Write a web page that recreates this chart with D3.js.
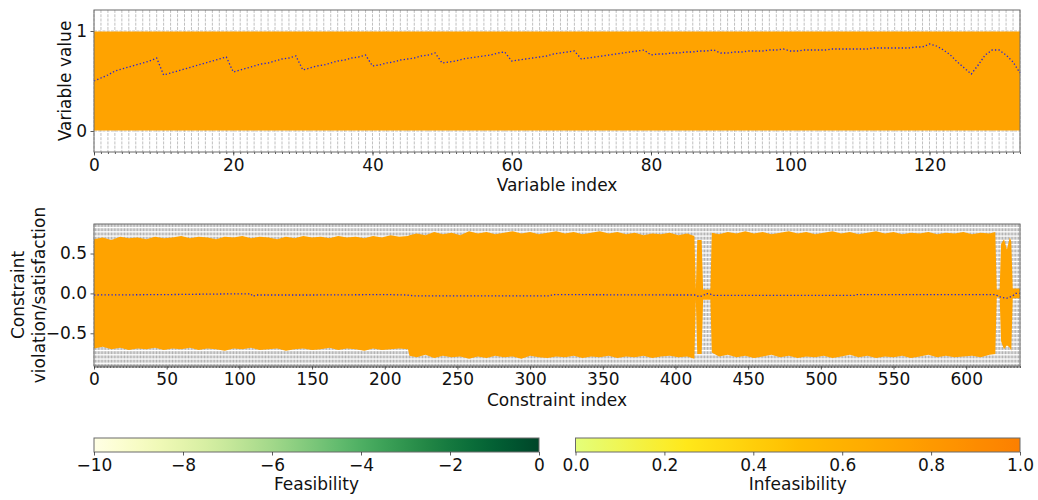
<!DOCTYPE html>
<html>
<head>
<meta charset="utf-8">
<script src="https://cdn.jsdelivr.net/npm/d3@7"></script>
<style>
  body { margin: 0; background: #fff; }
  text { font-family: "DejaVu Sans", sans-serif; fill: #111; }
</style>
</head>
<body>
<div id="chart"></div>
<script>
// mean variable value per variable index (blue dotted line, top panel)
const variableMean = [
  0.50, 0.53, 0.56, 0.60, 0.62, 0.64, 0.66, 0.68, 0.70, 0.73,
  0.56, 0.58, 0.60, 0.62, 0.64, 0.66, 0.68, 0.70, 0.72, 0.74,
  0.59, 0.61, 0.63, 0.65, 0.67, 0.68, 0.70, 0.72, 0.73, 0.75,
  0.61, 0.63, 0.65, 0.66, 0.68, 0.70, 0.71, 0.73, 0.74, 0.76,
  0.65, 0.66, 0.68, 0.69, 0.71, 0.72, 0.73, 0.75, 0.76, 0.78,
  0.68, 0.69, 0.70, 0.72, 0.73, 0.74, 0.75, 0.76, 0.78, 0.79,
  0.70, 0.71, 0.72, 0.73, 0.74, 0.75, 0.77, 0.78, 0.79, 0.80,
  0.72, 0.73, 0.74, 0.75, 0.76, 0.77, 0.78, 0.79, 0.80, 0.81,
  0.76, 0.77, 0.77, 0.78, 0.78, 0.79, 0.79, 0.80, 0.80, 0.81,
  0.78, 0.78, 0.79, 0.79, 0.80, 0.80, 0.80, 0.81, 0.81, 0.82,
  0.80, 0.80, 0.81, 0.81, 0.81, 0.81, 0.82, 0.82, 0.82, 0.82,
  0.82, 0.82, 0.83, 0.83, 0.83, 0.83, 0.83, 0.83, 0.84, 0.84,
  0.87, 0.85, 0.81, 0.76, 0.69, 0.63, 0.57, 0.66, 0.76, 0.81,
  0.81, 0.76, 0.69, 0.58
];

// envelope of the population lines: [index, upper, lower]
const variableBand = [
  [0, 0.995, 0.005], [133, 0.995, 0.005]
];

const constraintBand = [
  [0, 0.68, -0.69], [6, 0.70, -0.67], [12, 0.67, -0.70], [18, 0.71, -0.68], [24, 0.69, -0.71],
  [30, 0.70, -0.69], [36, 0.68, -0.70], [42, 0.71, -0.68], [48, 0.69, -0.71], [54, 0.70, -0.69],
  [60, 0.72, -0.70], [66, 0.69, -0.68], [72, 0.71, -0.71], [78, 0.70, -0.69], [84, 0.68, -0.70],
  [90, 0.71, -0.72], [96, 0.70, -0.69], [102, 0.72, -0.70], [108, 0.69, -0.68], [114, 0.71, -0.71],
  [120, 0.70, -0.70], [126, 0.68, -0.69], [132, 0.71, -0.72], [138, 0.69, -0.70], [144, 0.72, -0.69],
  [150, 0.70, -0.71], [156, 0.71, -0.70], [162, 0.69, -0.68], [168, 0.72, -0.71], [174, 0.70, -0.69],
  [180, 0.71, -0.70], [186, 0.69, -0.72], [192, 0.72, -0.69], [198, 0.70, -0.71], [204, 0.73, -0.70],
  [210, 0.71, -0.69], [216, 0.72, -0.70],
  [217, 0.73, -0.78], [222, 0.75, -0.80], [228, 0.73, -0.77], [234, 0.77, -0.81], [240, 0.74, -0.78],
  [246, 0.76, -0.80], [252, 0.73, -0.79], [258, 0.78, -0.82], [264, 0.75, -0.79], [270, 0.77, -0.81],
  [276, 0.74, -0.78], [282, 0.76, -0.80], [288, 0.78, -0.79], [294, 0.75, -0.82], [300, 0.77, -0.78],
  [306, 0.74, -0.80], [312, 0.76, -0.81], [318, 0.78, -0.79], [324, 0.75, -0.80], [330, 0.77, -0.78],
  [336, 0.74, -0.81], [342, 0.76, -0.79], [348, 0.78, -0.80], [354, 0.75, -0.78], [360, 0.77, -0.81],
  [366, 0.74, -0.79], [372, 0.76, -0.80], [378, 0.73, -0.78], [384, 0.75, -0.81], [390, 0.74, -0.79],
  [396, 0.76, -0.78], [402, 0.73, -0.80], [408, 0.75, -0.79], [413, 0.72, -0.82],
  [414, 0.05, -0.08], [415, 0.67, -0.76], [418, 0.67, -0.76], [419, 0.05, -0.08], [424, 0.05, -0.08],
  [425, 0.76, -0.74], [430, 0.74, -0.79], [436, 0.77, -0.77], [442, 0.75, -0.80], [448, 0.78, -0.78],
  [454, 0.75, -0.81], [460, 0.77, -0.79], [466, 0.74, -0.77], [472, 0.76, -0.80], [478, 0.78, -0.78],
  [484, 0.75, -0.81], [490, 0.77, -0.79], [496, 0.74, -0.80], [502, 0.76, -0.78], [508, 0.78, -0.81],
  [514, 0.75, -0.79], [520, 0.77, -0.77], [526, 0.74, -0.80], [532, 0.76, -0.78], [538, 0.78, -0.81],
  [544, 0.75, -0.79], [550, 0.77, -0.80], [556, 0.74, -0.78], [562, 0.76, -0.81], [568, 0.75, -0.79],
  [574, 0.77, -0.77], [580, 0.74, -0.80], [586, 0.76, -0.78], [592, 0.75, -0.80], [598, 0.77, -0.79],
  [604, 0.74, -0.78], [610, 0.76, -0.80], [616, 0.75, -0.77], [620, 0.77, -0.76],
  [621, 0.05, -0.05], [623, 0.05, -0.05], [624, 0.62, -0.60], [626, 0.68, -0.70], [628, 0.55, -0.65],
  [630, 0.70, -0.68], [631, 0.65, -0.72], [632, 0.06, -0.06], [637, 0.06, -0.06]
];

// mean constraint value: [index, value]
const constraintMean = [
  [0, -0.02], [50, -0.015], [100, -0.005], [108, -0.005], [109, -0.035], [112, -0.02],
  [150, -0.02], [200, -0.015], [215, -0.02], [220, -0.03], [314, -0.03], [315, -0.015],
  [400, -0.02], [414, -0.02], [416, -0.04], [419, -0.03], [421, 0.0], [424, -0.01],
  [426, -0.025], [523, -0.025], [524, -0.015], [620, -0.015], [624, -0.05], [628, -0.06],
  [632, -0.03], [634, 0.0], [637, 0.0]
];

const variableTicks = [0, 20, 40, 60, 80, 100, 120];
const variableYTicks = [0, 1];
const constraintTicks = [0, 50, 100, 150, 200, 250, 300, 350, 400, 450, 500, 550, 600];
const constraintYTicks = [-0.5, 0, 0.5];
const feasibilityTicks = [-10, -8, -6, -4, -2, 0];
const infeasibilityTicks = [0, 0.2, 0.4, 0.6, 0.8, 1.0];
const wistiaColors = ['#e4ff7a', '#ffe81a', '#ffbd00', '#ffa000', '#fc7f00'];

const width = 1038, height = 500;
const fontSize = 17;
const svg = d3.select('#chart').append('svg')
  .attr('width', width).attr('height', height);
const defs = svg.append('defs');

const wistia = d3.scaleLinear()
  .domain([0, 0.25, 0.5, 0.75, 1])
  .range(wistiaColors);
const bandColor = wistia(0.72);

const gridColor = '#b0b0b0';
const spineColor = '#6a6a6a';

function styleAxis(g) {
  g.select('.domain').remove();
  g.selectAll('.tick line').attr('stroke', '#333').attr('stroke-width', 0.8);
  g.selectAll('.tick text').attr('font-size', fontSize).attr('fill', '#111');
}

// ---------- top panel: variables ----------
const vx = d3.scaleLinear().domain([0, 133]).range([94, 1020]);
const vy = d3.scaleLinear().domain([-0.21, 1.21]).range([152, 10]);

const topPanel = svg.append('g');
topPanel.append('g').selectAll('line')
  .data(d3.range(0, 134))
  .join('line')
  .attr('x1', d => vx(d)).attr('x2', d => vx(d))
  .attr('y1', 10).attr('y2', 152)
  .attr('stroke', gridColor).attr('stroke-width', 0.8)
  .attr('stroke-dasharray', '2.96,1.28');
topPanel.append('g').selectAll('line')
  .data(variableYTicks)
  .join('line')
  .attr('x1', 94).attr('x2', 1020)
  .attr('y1', d => vy(d)).attr('y2', d => vy(d))
  .attr('stroke', gridColor).attr('stroke-width', 0.8)
  .attr('stroke-dasharray', '2.96,1.28');

topPanel.append('path')
  .datum(variableBand)
  .attr('fill', bandColor)
  .attr('d', d3.area().x(d => vx(d[0])).y0(d => vy(d[2])).y1(d => vy(d[1])));

topPanel.append('path')
  .datum(variableMean)
  .attr('fill', 'none')
  .attr('stroke', '#2222dd')
  .attr('stroke-width', 1.3)
  .attr('stroke-dasharray', '1.3,2.2')
  .attr('d', d3.line().x((d, i) => vx(i)).y(d => vy(d)));

topPanel.append('g')
  .attr('transform', 'translate(0,152)')
  .call(d3.axisBottom(vx).tickValues(d3.range(0, 134)).tickSize(2).tickFormat(''))
  .call(styleAxis);
topPanel.append('g')
  .attr('transform', 'translate(0,152)')
  .call(d3.axisBottom(vx).tickValues(variableTicks).tickSize(3.5).tickPadding(3.5))
  .call(styleAxis);
topPanel.append('g')
  .attr('transform', 'translate(94,0)')
  .call(d3.axisLeft(vy).tickValues(variableYTicks).tickSize(3.5).tickPadding(3.5).tickFormat(d3.format('d')))
  .call(styleAxis);
topPanel.append('rect')
  .attr('x', 94).attr('y', 10).attr('width', 926).attr('height', 142)
  .attr('fill', 'none').attr('stroke', spineColor).attr('stroke-width', 1);

topPanel.append('text')
  .attr('x', 557).attr('y', 191)
  .attr('text-anchor', 'middle').attr('font-size', fontSize)
  .text('Variable index');
topPanel.append('text')
  .attr('transform', 'translate(71,81) rotate(-90)')
  .attr('text-anchor', 'middle').attr('font-size', fontSize)
  .text('Variable value');

// ---------- bottom panel: constraints ----------
const cx = d3.scaleLinear().domain([0, 637]).range([94, 1020]);
const cy = d3.scaleLinear().domain([-0.91, 0.87]).range([366, 224]);

const bottomPanel = svg.append('g');
bottomPanel.append('g').selectAll('line')
  .data(d3.range(0, 638))
  .join('line')
  .attr('x1', d => cx(d)).attr('x2', d => cx(d))
  .attr('y1', 224).attr('y2', 366)
  .attr('stroke', gridColor).attr('stroke-width', 1)
  .attr('stroke-dasharray', '2.96,1.28');

bottomPanel.append('path')
  .datum(constraintBand)
  .attr('fill', bandColor)
  .attr('d', d3.area().x(d => cx(d[0])).y0(d => cy(d[2])).y1(d => cy(d[1])));

bottomPanel.append('path')
  .datum(constraintMean)
  .attr('fill', 'none')
  .attr('stroke', '#2222dd')
  .attr('stroke-width', 1.3)
  .attr('stroke-dasharray', '1.3,2.2')
  .attr('d', d3.line().x(d => cx(d[0])).y(d => cy(d[1])));

bottomPanel.append('g')
  .attr('transform', 'translate(0,366)')
  .call(d3.axisBottom(cx).tickValues(d3.range(0, 638)).tickSize(2).tickFormat(''))
  .call(styleAxis);
bottomPanel.append('g')
  .attr('transform', 'translate(0,366)')
  .call(d3.axisBottom(cx).tickValues(constraintTicks).tickSize(3.5).tickPadding(3))
  .call(styleAxis);
bottomPanel.append('g')
  .attr('transform', 'translate(94,0)')
  .call(d3.axisLeft(cy).tickValues(constraintYTicks).tickSize(3.5).tickPadding(3.5).tickFormat(d3.format('.1f')))
  .call(styleAxis);
bottomPanel.append('rect')
  .attr('x', 94).attr('y', 224).attr('width', 926).attr('height', 142)
  .attr('fill', 'none').attr('stroke', spineColor).attr('stroke-width', 1);

bottomPanel.append('text')
  .attr('x', 557).attr('y', 406)
  .attr('text-anchor', 'middle').attr('font-size', fontSize)
  .text('Constraint index');
const cLabel = bottomPanel.append('text')
  .attr('transform', 'translate(0,295) rotate(-90)')
  .attr('text-anchor', 'middle').attr('font-size', fontSize);
cLabel.append('tspan').attr('x', 0).attr('y', 24).text('Constraint');
cLabel.append('tspan').attr('x', 0).attr('y', 45).text('violation/satisfaction');

// ---------- colorbars ----------
function colorbar(id, x0, x1, domain, interp, ticks, fmt, label) {
  const grad = defs.append('linearGradient').attr('id', id)
    .attr('x1', '0%').attr('x2', '100%').attr('y1', '0%').attr('y2', '0%');
  grad.selectAll('stop')
    .data(d3.range(0, 1.0001, 0.05))
    .join('stop')
    .attr('offset', d => (d * 100) + '%')
    .attr('stop-color', d => interp(d));
  const s = d3.scaleLinear().domain(domain).range([x0, x1]);
  const g = svg.append('g');
  g.append('rect')
    .attr('x', x0).attr('y', 438).attr('width', x1 - x0).attr('height', 14)
    .attr('fill', `url(#${id})`)
    .attr('stroke', spineColor).attr('stroke-width', 1);
  g.append('g')
    .attr('transform', 'translate(0,452)')
    .call(d3.axisBottom(s).tickValues(ticks).tickSize(3.5).tickPadding(3.5).tickFormat(fmt))
    .call(styleAxis);
  g.append('text')
    .attr('x', (x0 + x1) / 2).attr('y', 490)
    .attr('text-anchor', 'middle').attr('font-size', fontSize)
    .text(label);
}

colorbar('ylgn', 94, 539, [-10, 0], d3.interpolateYlGn, feasibilityTicks, d3.format('d'), 'Feasibility');
colorbar('wistia', 575.5, 1020, [0, 1], t => wistia(t), infeasibilityTicks, d3.format('.1f'), 'Infeasibility');
</script>
</body>
</html>
